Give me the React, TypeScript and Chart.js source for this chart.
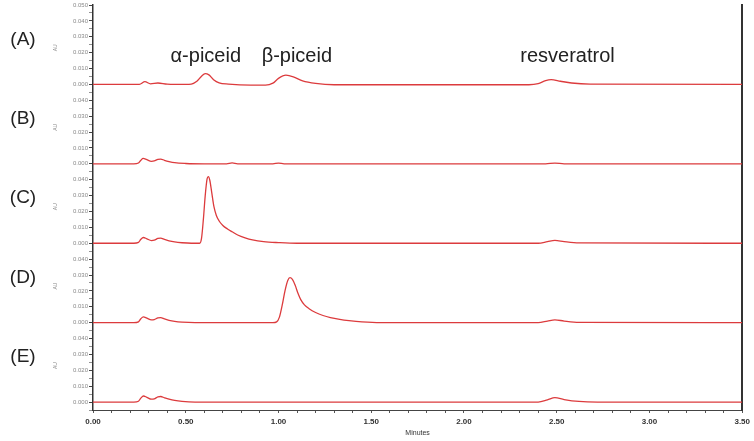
import { useEffect, useRef } from 'react';
import { Chart, registerables } from 'chart.js';

Chart.register(...registerables);

// ---- data ----
const panelNames = ['(A)', '(B)', '(C)', '(D)', '(E)'];
const peakNames = ['α-piceid', 'β-piceid', 'resveratrol'];
const peakLabelX = [0.608, 1.099, 2.558];
const xTickLabels = ['0.00', '0.50', '1.00', '1.50', '2.00', '2.50', '3.00', '3.50'];
const yTickLabels = ['0.000', '0.010', '0.020', '0.030', '0.040', '0.050'];

// [minutes, response] pairs (1 unit = one y tick interval)
const traceA: number[][] = [
  [0, 0], [0.25, 0], [0.28, 0.17], [0.31, 0.04], [0.35, 0.09], [0.4, 0.02], [0.5, 0],
  [0.53, 0.02], [0.56, 0.2], [0.585, 0.52], [0.605, 0.68], [0.625, 0.6], [0.65, 0.3],
  [0.68, 0.1], [0.73, 0.02], [0.85, -0.05], [0.93, -0.05], [0.97, 0.08], [1.0, 0.38],
  [1.04, 0.58], [1.08, 0.48], [1.13, 0.22], [1.2, 0.06], [1.3, -0.02], [2.35, -0.02],
  [2.4, 0.05], [2.44, 0.24], [2.47, 0.3], [2.52, 0.2], [2.58, 0.09], [2.68, 0.02], [3.5, 0],
];
const traceB: number[][] = [
  [0, 0], [0.22, 0], [0.245, 0.05], [0.258, 0.22], [0.27, 0.34], [0.29, 0.26], [0.315, 0.16],
  [0.33, 0.18], [0.35, 0.28], [0.365, 0.3], [0.385, 0.22], [0.41, 0.14], [0.44, 0.07],
  [0.5, 0.02], [0.6, 0], [0.72, 0], [0.75, 0.06], [0.78, 0], [0.97, 0], [1.0, 0.05],
  [1.03, 0], [2.44, 0], [2.49, 0.05], [2.54, 0], [3.5, 0],
];
const traceC: number[][] = [
  [0, 0], [0.22, 0], [0.245, 0.05], [0.258, 0.25], [0.272, 0.36], [0.29, 0.28], [0.315, 0.17],
  [0.33, 0.19], [0.35, 0.3], [0.365, 0.32], [0.385, 0.24], [0.41, 0.15], [0.44, 0.08],
  [0.48, 0.03], [0.53, 0], [0.575, 0], [0.585, 0.3], [0.595, 1.5], [0.605, 3.0],
  [0.615, 4.05], [0.622, 4.2], [0.63, 3.95], [0.64, 3.2], [0.652, 2.3], [0.665, 1.75],
  [0.68, 1.4], [0.7, 1.12], [0.725, 0.9], [0.75, 0.72], [0.78, 0.52], [0.82, 0.34],
  [0.86, 0.21], [0.92, 0.1], [1.0, 0.04], [1.1, 0], [2.4, 0], [2.45, 0.1], [2.49, 0.18],
  [2.54, 0.1], [2.62, 0.02], [3.5, 0],
];
const traceD: number[][] = [
  [0, 0], [0.22, 0], [0.245, 0.05], [0.258, 0.25], [0.272, 0.36], [0.29, 0.28], [0.315, 0.17],
  [0.33, 0.19], [0.35, 0.3], [0.365, 0.32], [0.385, 0.24], [0.41, 0.15], [0.44, 0.08],
  [0.48, 0.03], [0.55, 0], [0.97, 0], [0.99, 0.05], [1.005, 0.35], [1.02, 1.1],
  [1.035, 2.0], [1.05, 2.65], [1.062, 2.83], [1.075, 2.72], [1.09, 2.35], [1.105, 1.85],
  [1.12, 1.45], [1.14, 1.12], [1.165, 0.88], [1.2, 0.64], [1.24, 0.45], [1.28, 0.32],
  [1.33, 0.21], [1.38, 0.13], [1.45, 0.05], [1.55, 0], [2.4, 0], [2.45, 0.1], [2.49, 0.18],
  [2.54, 0.1], [2.62, 0.02], [3.5, 0],
];
const traceE: number[][] = [
  [0, 0], [0.22, 0], [0.245, 0.05], [0.258, 0.25], [0.272, 0.38], [0.29, 0.3], [0.315, 0.18],
  [0.33, 0.2], [0.35, 0.33], [0.365, 0.35], [0.385, 0.27], [0.41, 0.18], [0.44, 0.1],
  [0.48, 0.04], [0.55, 0], [2.4, 0], [2.45, 0.14], [2.49, 0.28], [2.54, 0.16],
  [2.62, 0.04], [2.72, 0], [3.5, 0],
];
const traces = [traceA, traceB, traceC, traceD, traceE];

const PANEL = 5; // y units per panel
const LINE = '#dc3b3d';

const textPlugin = {
  id: 'chromText',
  afterDraw(chart: any) {
    const { ctx, scales } = chart;
    const xs = scales.x;
    const ys = scales.y;
    ctx.save();
    ctx.fillStyle = '#222';
    ctx.textBaseline = 'middle';
    ctx.textAlign = 'center';
    ctx.font = '20px "Liberation Sans", Arial, sans-serif';
    const topBase = (traces.length - 1) * PANEL;
    peakNames.forEach((n, i) => {
      ctx.fillText(n, xs.getPixelForValue(peakLabelX[i]), ys.getPixelForValue(topBase + 1.73));
    });
    ctx.font = '19px "Liberation Sans", Arial, sans-serif';
    panelNames.forEach((n, i) => {
      const base = (traces.length - 1 - i) * PANEL;
      ctx.fillStyle = '#222';
      ctx.fillText(n, 23, ys.getPixelForValue(base + 2.84));
      ctx.save();
      ctx.translate(56, ys.getPixelForValue(base + 2.3));
      ctx.rotate(-Math.PI / 2);
      ctx.fillStyle = '#888';
      ctx.font = '5px "Liberation Sans", Arial, sans-serif';
      ctx.fillText('AU', 0, 0);
      ctx.restore();
    });
    ctx.restore();
  },
};

export default function App() {
  const ref = useRef<HTMLCanvasElement>(null);
  useEffect(() => {
    if (!ref.current) return;
    const chart = new Chart(ref.current, {
      type: 'line',
      data: {
        datasets: traces.map((t, i) => ({
          label: panelNames[i],
          data: t.map(([x, y]) => ({ x, y: y + (traces.length - 1 - i) * PANEL })),
          borderColor: LINE,
          borderWidth: 1.3,
          pointRadius: 0,
          fill: false,
          cubicInterpolationMode: 'monotone' as const,
        })),
      },
      options: {
        animation: false,
        responsive: false,
        devicePixelRatio: 1,
        layout: { padding: { top: 5, left: 0, right: 0, bottom: 0 } },
        plugins: { legend: { display: false }, tooltip: { enabled: false } },
        scales: {
          x: {
            type: 'linear',
            position: 'bottom',
            min: 0,
            max: 3.5,
            ticks: {
              stepSize: 0.1,
              autoSkip: false,
              maxRotation: 0,
              padding: 4,
              color: '#333',
              font: { size: 8, weight: 'bold', family: '"Liberation Sans", Arial, sans-serif' },
              callback: (v: any) => {
                const k = Number(v) * 2;
                const r = Math.round(k);
                return Math.abs(k - r) < 1e-6 ? xTickLabels[r] : '';
              },
            },
            grid: { drawOnChartArea: false, tickLength: 3, color: '#555' },
            border: { color: '#444', width: 1 },
            title: {
              display: true,
              text: 'Minutes',
              color: '#333',
              font: { size: 7, family: '"Liberation Sans", Arial, sans-serif' },
              padding: { top: 0, bottom: 4 },
            },
            afterFit: (s: any) => { s.height = 31; },
          },
          y: {
            type: 'linear',
            position: 'left',
            min: -0.5,
            max: 25,
            ticks: {
              stepSize: 0.5,
              autoSkip: false,
              padding: 1,
              color: '#888',
              font: { size: 6, family: '"Liberation Sans", Arial, sans-serif' },
              callback: (v: any) => {
                const n = Number(v);
                if (Math.abs(n - Math.round(n)) > 1e-6 || n < 0) return '';
                const r = Math.round(n);
                const p = Math.min(Math.floor(r / PANEL), traces.length - 1);
                return yTickLabels[r - p * PANEL];
              },
            },
            grid: {
              drawOnChartArea: false,
              tickLength: 4,
              tickColor: '#444',
              tickWidth: (c: any) => (Number.isInteger(c.tick?.value) ? 1 : 0.6),
            },
            border: { color: '#333', width: 1.5 },
            afterFit: (s: any) => { s.width = 93; },
          },
          yr: {
            type: 'linear',
            position: 'right',
            min: 0,
            max: 1,
            ticks: { display: false },
            grid: { display: false, drawOnChartArea: false },
            border: { display: true, color: '#333', width: 2 },
            afterFit: (s: any) => { s.width = 10; },
          },
        },
      } as any,
      plugins: [textPlugin],
    });
    return () => chart.destroy();
  }, []);
  return (
    <div style={{ position: 'fixed', left: 0, top: 0, width: 754, height: 441, background: '#fff' }}>
      <canvas ref={ref} width={754} height={441} style={{ width: 754, height: 441 }} />
    </div>
  );
}
